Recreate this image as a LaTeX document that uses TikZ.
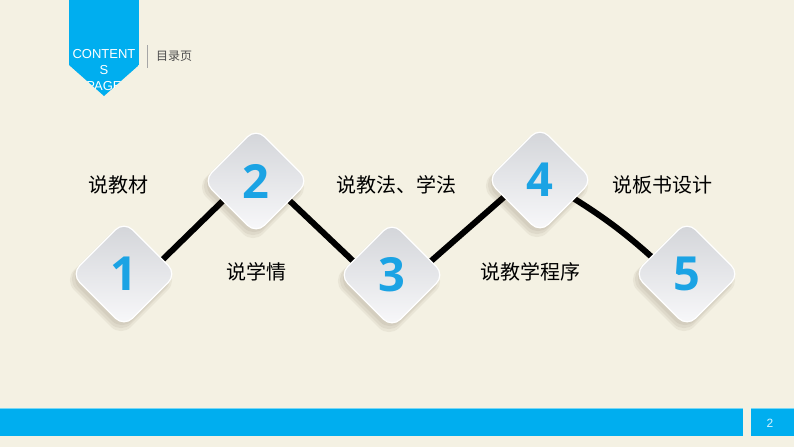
\documentclass[tikz,border=0pt]{standalone}
\usepackage{fontspec}
\setmainfont{Liberation Sans}
\newfontfamily\cjk{Noto Sans CJK SC}
\newfontfamily\numfont{Open Sans}
\usetikzlibrary{shapes.geometric}
\definecolor{bgbeige}{RGB}{244,241,227}
\definecolor{barblue}{RGB}{0,174,239}
\definecolor{barline}{RGB}{120,215,245}
\definecolor{numblue}{RGB}{27,163,228}
\definecolor{diatop}{RGB}{210,212,216}
\definecolor{diabot}{RGB}{249,249,251}
\tikzset{
  diam/.style={diamond, aspect=1, minimum width=106pt, minimum height=106pt, inner sep=0pt,
    rounded corners=12pt, top color=diatop, bottom color=diabot, draw=white, line width=1.2pt},
  diamshadow/.style={diamond, aspect=1, minimum width=#1, minimum height=#1, inner sep=0pt,
    rounded corners=14pt, fill=black!70!brown, fill opacity=0.06, draw=none},
  numtxt/.style={font=\numfont\bfseries\fontsize{47}{47}\selectfont, text=numblue, inner sep=0pt},
  lbl/.style={font=\cjk\fontsize{20}{20}\selectfont, text=black, inner sep=0pt},
  conn/.style={line width=6pt, black},
}
\begin{document}
\begin{tikzpicture}[x=1pt,y=-1pt]
\fill[bgbeige] (0,0) rectangle (794,447);
\useasboundingbox (0,0) rectangle (794,447);
% banner
\begin{scope}
\clip (69,0) -- (139,0) -- (139,65) -- (104,96) -- (69,65) -- cycle;
\fill[barblue] (69,0) rectangle (139,100);
\node[font=\fontsize{13}{16}\selectfont, text=white, align=center, inner sep=0pt] (bannertxt) at (104,70.5) {CONTENT\\S\\PAGE};
\end{scope}
\draw[gray!70, line width=0.8pt] (147,45) coordinate (sepa) -- (147,68) coordinate (sepb);
\node[font=\cjk\fontsize{12}{12}\selectfont, text=black!70, anchor=west, inner sep=0pt] (mulu) at (156,56) {目录页};
% bottom bar
\fill[barblue] (0,408) rectangle (743,436);
\fill[barblue] (751,408) rectangle (794,436);
\draw[barline, line width=0.8pt] (0,408.4) -- (743,408.4);
\draw[barline, line width=0.8pt] (751,408.4) -- (794,408.4);
\node[font=\fontsize{12}{12}\selectfont, text=white!85!cyan, inner sep=0pt] (pagenum) at (770,423) {2};
% diamond positions
\coordinate (c1) at (124,274);
\coordinate (c2) at (256,181);
\coordinate (c3) at (392,275);
\coordinate (c4) at (540,180);
\coordinate (c5) at (687,274);
% connector end points (hidden under the diamonds)
\coordinate (a1) at (150,272); \coordinate (b2) at (236,188);
\coordinate (a2) at (272,184); \coordinate (b3) at (372,279);
\coordinate (a3) at (414,276); \coordinate (b4) at (520,183);
\coordinate (a4) at (560,190); \coordinate (b5) at (668,272);
% connectors
\draw[conn] (a1) -- (b2);
\draw[conn] (a2) -- (b3);
\draw[conn] (a3) -- (b4);
\draw[conn] (a4) to[bend left=6] (b5);
% shadows
\foreach \i in {1,...,5}{
  \node[diamshadow=114pt] (s\i a) at ([shift={(-3,6)}]c\i) {};
  \node[diamshadow=110pt] (s\i b) at ([shift={(-3,5)}]c\i) {};
  \node[diamshadow=106pt] (s\i c) at ([shift={(-2,4)}]c\i) {};
}
% diamonds
\node[diam] (d1) at (c1) {};
\node[diam] (d2) at (c2) {};
\node[diam] (d3) at (c3) {};
\node[diam] (d4) at (c4) {};
\node[diam] (d5) at (c5) {};
\node[numtxt] (n1) at (d1) {1};
\node[numtxt] (n2) at (d2) {2};
\node[numtxt] (n3) at (d3) {3};
\node[numtxt] (n4) at (d4) {4};
\node[numtxt] (n5) at (d5) {5};
% labels
\node[lbl] (l1) at (118,185) {说教材};
\node[lbl] (l2) at (256,272) {说学情};
\node[lbl] (l3) at (396,185) {说教法、学法};
\node[lbl] (l4) at (530,272) {说教学程序};
\node[lbl] (l5) at (662,185) {说板书设计};
\end{tikzpicture}
\end{document}
